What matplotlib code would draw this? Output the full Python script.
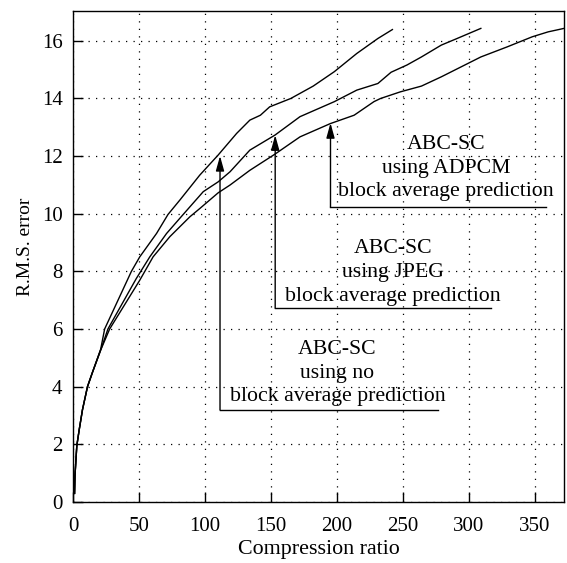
import matplotlib
matplotlib.use("Agg")
import matplotlib.pyplot as plt

# --- data ---
x_none = [1.2, 1.5, 2.1, 2.9, 4.7, 7.2, 11, 14.8, 21, 24, 44.3, 50.6, 63.3, 72, 81, 96,
          110, 124, 134, 142, 149, 165, 182, 198, 215, 231, 242]
y_none = [0.3, 0.9, 1.35, 1.95, 2.5, 3.2, 4.0, 4.5, 5.3, 6.0, 8.0, 8.5, 9.31, 9.97, 10.47, 11.33,
          12.03, 12.78, 13.24, 13.41, 13.70, 13.99, 14.42, 14.92, 15.55, 16.07, 16.38]

x_jpeg = [1.2, 1.5, 2.1, 2.9, 4.7, 7.2, 11, 14.8, 21, 26.5, 48, 58.2, 70.9, 83.5, 98.7,
          110, 119, 134, 153, 172, 198, 215, 231, 241, 253, 264, 279, 291, 309]
y_jpeg = [0.3, 0.9, 1.35, 1.95, 2.5, 3.2, 4.0, 4.5, 5.27, 6.0, 7.75, 8.5, 9.31, 9.97, 10.76,
          11.1, 11.45, 12.2, 12.72, 13.36, 13.88, 14.28, 14.51, 14.9, 15.15, 15.43, 15.84, 16.07, 16.42]

x_adpcm = [1.2, 1.5, 2.1, 2.9, 4.7, 7.2, 11, 14.8, 21, 27.8, 50.6, 60.7, 73.4, 88.6, 96.2,
           110, 119, 134, 153, 172, 195, 213, 228, 233, 248, 264, 279, 299, 309, 329, 348, 360, 372]
y_adpcm = [0.3, 0.9, 1.35, 1.95, 2.5, 3.2, 4.0, 4.5, 5.27, 6.0, 7.69, 8.5, 9.2, 9.89, 10.18,
           10.72, 10.99, 11.5, 12.06, 12.66, 13.12, 13.41, 13.88, 13.99, 14.22, 14.42, 14.74, 15.2,
           15.43, 15.78, 16.13, 16.3, 16.42]

x_ticks = [0, 50, 100, 150, 200, 250, 300, 350]
y_ticks = [0, 2, 4, 6, 8, 10, 12, 14, 16]

labels = ["ABC-SC\nusing no\nblock average prediction",
          "ABC-SC\nusing JPEG\nblock average prediction",
          "ABC-SC\nusing ADPCM\nblock average prediction"]

plt.rcParams['font.family'] = ['Liberation Serif', 'DejaVu Serif']

fig = plt.figure(figsize=(5.67, 5.63), dpi=100)
ax = fig.add_axes([0.1287, 0.1083, 0.866, 0.872])

for xs, ys in [(x_none, y_none), (x_jpeg, y_jpeg), (x_adpcm, y_adpcm)]:
    ax.plot(xs, ys, color='black', lw=1.0)

ax.set_xlim(0, 372)
ax.set_ylim(0, 17.02)
ax.set_xticks(x_ticks)
ax.set_yticks(y_ticks)
ax.grid(True, color='black', linestyle=(0, (1, 5)), linewidth=0.9)
ax.tick_params(direction='in', length=7, width=1, labelsize=15)
ax.tick_params(axis='x', pad=10.5)
ax.tick_params(axis='y', pad=7.5)
for s in ax.spines.values():
    s.set_linewidth(1.0)

ax.set_xlabel("Compression ratio", fontsize=15.8, labelpad=3)
ax.set_ylabel("R.M.S. error", fontsize=14)
ax.yaxis.set_label_coords(-0.08, 0.519)

# annotations: (arrow x, tip y, base y, line end x, text x, text y)
annots = [
    (111.4, 12.0, 3.19, 276.4, 200.4, 4.47),
    (153.2, 12.72, 6.72, 316.7, 242.5, 7.97),
    (195.1, 13.14, 10.23, 358.6, 282.5, 11.58),
]
for (xa, yt, yb, xe, tx, ty), lab in zip(annots, labels):
    ax.annotate("", xy=(xa, yt), xytext=(xa, yb),
                arrowprops=dict(arrowstyle='-|>,head_length=0.9,head_width=0.25',
                                color='black', lw=1.0, shrinkA=0, shrinkB=0))
    ax.plot([xa, xe], [yb, yb], color='black', lw=1.0)
    ax.text(tx, ty, lab, ha='center', va='center', fontsize=15.7, linespacing=1.35)

fig.savefig("out.png", dpi=100)
